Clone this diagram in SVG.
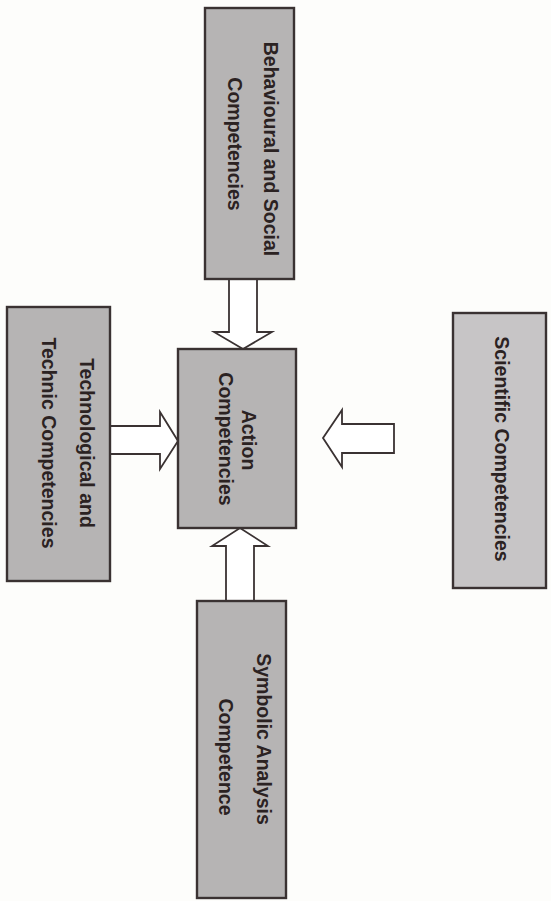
<svg xmlns="http://www.w3.org/2000/svg" width="551" height="901" viewBox="0 0 551 901">
<style>
.box{fill:#b6b4b4;stroke:#3a3232;stroke-width:2.4}
.light{fill:#c7c5c6}
.lbl{font-family:"Liberation Sans",Arial,sans-serif;font-weight:bold;font-size:19.5px;fill:#2b2222;text-anchor:middle}
.arr{fill:#ffffff;stroke:#3a3232;stroke-width:1.8;stroke-linejoin:miter}
</style>
<rect width="551" height="901" fill="#fdfdfb"/>
<g id="connectors">
<polygon class="arr" points="229,279 257,279 257,332 272,332 243,349 214,332 229,332"/>
<polygon class="arr" points="110,426 160,426 160,412 178,441 160,469 160,454 110,454"/>
<polygon class="arr" points="394,424 342,424 342,410 323,438 342,467 342,453 394,453"/>
<polygon class="arr" points="226,601 226,546 212,546 240,528 268,546 254,546 254,601"/>
</g>
<g id="behavioural">
<rect class="box" x="205" y="8" width="89" height="271"/>
<text class="lbl" transform="translate(264,149) rotate(90)">Behavioural and Social</text>
<text class="lbl" transform="translate(228,144) rotate(90)">Competencies</text>
</g>
<g id="action">
<rect class="box" x="178" y="349" width="118" height="179"/>
<text class="lbl" transform="translate(242,440) rotate(90)">Action</text>
<text class="lbl" transform="translate(219,439) rotate(90)">Competencies</text>
</g>
<g id="technological">
<rect class="box" x="7" y="307" width="103" height="274"/>
<text class="lbl" transform="translate(80,443) rotate(90)">Technological and</text>
<text class="lbl" transform="translate(42,443) rotate(90)">Technic Competencies</text>
</g>
<g id="scientific">
<rect class="box light" x="453" y="313" width="93" height="275"/>
<text class="lbl" transform="translate(495,449) rotate(90)">Scientific Competencies</text>
</g>
<g id="symbolic">
<rect class="box" x="197" y="601" width="89" height="297"/>
<text class="lbl" transform="translate(257,739) rotate(90)">Symbolic Analysis</text>
<text class="lbl" transform="translate(219,757) rotate(90)">Competence</text>
</g>
</svg>
